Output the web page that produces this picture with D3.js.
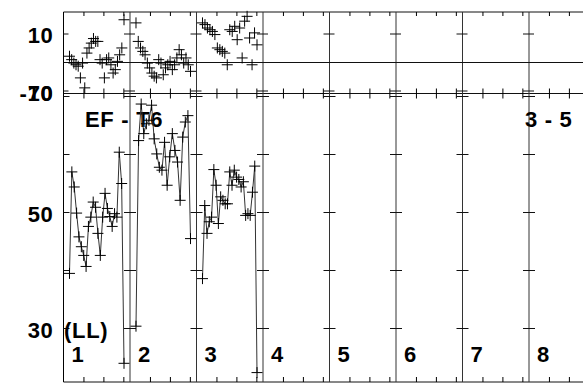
<!DOCTYPE html>
<html>
<head>
<meta charset="utf-8">
<script src="https://cdn.jsdelivr.net/npm/d3@7"></script>
<style>
    body { margin: 0; background: #fff; }
    svg { display: block; }
    text { font-family: "Liberation Sans", Arial, sans-serif; font-weight: bold; font-size: 22px; letter-spacing: 0.7px; fill: #000; }
</style>
</head>
<body>
<div id="chart"></div>
<script>
// section labels along the bottom
var sectionLabels = ['1', '2', '3', '4', '5', '6', '7', '8'];
var topTickValues = [-10, 0, 10];
var topTickLabels = ['-10', '10'];
var bottomTickValues = [30, 40, 50, 60, 70];
var bottomTickLabels = ['30', '50', '70'];
var xOffsetsInSection = [3, 6, 9];

// upper panel (markers only), one array per section
var top1 = [2.2, 1.0, -0.2, -0.8, -1.3, -5.4, -0.2, -8.9, 3.3, 5.1, 6.8, 8.4, 7.4, 7.4, 1.0, -0.2, -5.4, 1.0, 1.6, -0.8, -3.7, -2.5, 0.4, 2.7, 5.1, 15.0];
var top2 = [13.9, 7.4, 5.1, 3.9, 2.7, -0.2, -1.9, -3.7, -4.8, -5.4, 1.0, -0.2, -4.3, -1.9, -0.8, 0.4, -2.5, -0.8, 1.6, 4.5, 2.7, -0.2, 1.6, -0.8, -3.1];
var top3 = [13.9, 13.3, 12.1, 11.5, 10.9, 9.8, 5.1, 4.5, 3.9, 3.3, -0.8, 11.5, 10.9, 12.7, 8.0, 12.1, 1.6, 14.5, 16.2, 8.6, -0.8, 10.4, 6.2];

// lower panel (line + markers), one array per section
var bottom1 = [39.5, 57.0, 54.4, 49.9, 45.8, 44.1, 42.6, 40.7, 47.6, 49.2, 51.8, 50.9, 46.4, 42.6, 49.2, 53.3, 50.7, 49.3, 47.6, 49.8, 49.2, 60.4, 55.0, 24.0];
var bottom2 = [30.4, 62.4, 68.7, 63.6, 65.3, 65.9, 68.5, 62.7, 60.1, 57.8, 57.3, 62.1, 54.7, 59.6, 63.6, 60.7, 58.7, 52.1, 63.0, 65.6, 66.7, 45.5];
var bottom3 = [38.6, 51.2, 46.4, 48.4, 49.2, 57.4, 54.7, 48.1, 52.7, 52.1, 51.5, 51.5, 57.0, 54.7, 57.3, 56.1, 55.7, 54.4, 55.3, 49.5, 49.8, 49.5, 53.5, 58.0, 22.4];

var topSeries = [top1, top2, top3];
var bottomSeries = [bottom1, bottom2, bottom3];

var width = 583, height = 389;
var topY = 12, midY = 93.5, bottomY = 382;

var svg = d3.select('#chart')
    .append('svg')
    .attr('width', width)
    .attr('height', height);

// each section is 10 units wide
var x = d3.scaleLinear().domain([0, 80]).range([63.5, 595.5]);
var yTop = d3.scaleLinear().domain([-10, 10]).range([91, 34]);
var yBottom = d3.scaleLinear().domain([30, 70]).range([328.5, 96.5]);

// place the i-th point of a section
function px(section, i, n) {
    return x(section * 10 + 0.9 + i * 8.2 / (n - 1));
}

var frame = svg.append('g').attr('stroke', '#111').attr('stroke-width', 1).attr('fill', 'none');

// horizontal frame lines
[topY, midY, bottomY].forEach(function(yy) {
    frame.append('line').attr('x1', x(0)).attr('x2', width).attr('y1', yy).attr('y2', yy);
});
// zero line in upper panel
frame.append('line').attr('x1', x(0)).attr('x2', width).attr('y1', yTop(0)).attr('y2', yTop(0));

// left axis + section separators
d3.range(0, 8).forEach(function(k) {
    frame.append('line').attr('x1', x(k * 10)).attr('x2', x(k * 10)).attr('y1', topY).attr('y2', bottomY)
        .attr('stroke', k === 0 ? '#000' : '#333');
});

// x ticks
var xTickValues = [];
d3.range(0, 8).forEach(function(k) {
    xOffsetsInSection.forEach(function(o) { xTickValues.push(k * 10 + o); });
});

svg.append('g')
    .attr('transform', 'translate(0,' + topY + ')')
    .call(d3.axisTop(x).tickValues(xTickValues).tickSize(-4).tickFormat(''))
    .call(function(g) { g.select('.domain').remove(); });

svg.append('g')
    .attr('transform', 'translate(0,' + bottomY + ')')
    .call(d3.axisBottom(x).tickValues(xTickValues).tickSize(-5).tickFormat(''))
    .call(function(g) { g.select('.domain').remove(); });

svg.append('g')
    .attr('transform', 'translate(0,' + (midY + 5) + ')')
    .call(d3.axisBottom(x).tickValues(xTickValues).tickSize(-10).tickFormat(''))
    .call(function(g) { g.select('.domain').remove(); });

// y ticks on left axis (inward) and on each separator (centred)
var yTicks = svg.append('g').attr('stroke', '#111').attr('stroke-width', 1);
d3.range(0, 8).forEach(function(k) {
    var xs = x(k * 10);
    var x1 = k === 0 ? xs : xs - 6;
    topTickValues.forEach(function(v) {
        yTicks.append('line').attr('x1', x1).attr('x2', xs + 5).attr('y1', yTop(v)).attr('y2', yTop(v));
    });
    bottomTickValues.forEach(function(v) {
        yTicks.append('line').attr('x1', x1).attr('x2', xs + 6).attr('y1', yBottom(v)).attr('y2', yBottom(v));
    });
});

// y labels ("-10" and "70" share the panel boundary, as in the original)
var labels = svg.append('g').attr('text-anchor', 'end');
topTickLabels.forEach(function(t) {
    var v = +t;
    labels.append('text').attr('x', 53.5)
        .attr('y', v === -10 ? midY - 0.5 : yTop(v) + 1.5)
        .attr('dominant-baseline', 'central').text(t);
});
bottomTickLabels.forEach(function(t) {
    var v = +t;
    labels.append('text').attr('x', 53.5)
        .attr('y', v === 70 ? midY - 0.5 : yBottom(v) + 1.5)
        .attr('dominant-baseline', 'central').text(t);
});

// annotations
svg.append('text').attr('x', 85).attr('y', 127.3).text('EF - T6');
svg.append('text').attr('x', 525).attr('y', 127.3).text('3 - 5');
svg.append('text').attr('x', 64).attr('y', 338).text('(LL)');

svg.append('g').selectAll('text')
    .data(sectionLabels)
    .enter().append('text')
    .attr('x', function(d, i) { return x(i * 10) + 8; })
    .attr('y', 361.7)
    .text(function(d) { return d; });

var plus = 'M-5.5,0H5.5M0,-5.5V5.5';

// upper panel markers
topSeries.forEach(function(vals, k) {
    svg.append('g').selectAll('path')
        .data(vals)
        .enter().append('path')
        .attr('d', plus)
        .attr('stroke', '#000')
        .attr('stroke-width', 1)
        .attr('transform', function(d, i) { return 'translate(' + px(k, i, vals.length) + ',' + yTop(d) + ')'; });
});

// lower panel lines + markers
var line = d3.line();
bottomSeries.forEach(function(vals, k) {
    var pts = vals.map(function(d, i) { return [px(k, i, vals.length), yBottom(d)]; });
    svg.append('path')
        .attr('d', line(pts))
        .attr('fill', 'none')
        .attr('stroke', '#333')
        .attr('stroke-width', 1);
    svg.append('g').selectAll('path')
        .data(pts)
        .enter().append('path')
        .attr('d', plus)
        .attr('stroke', '#000')
        .attr('stroke-width', 1)
        .attr('transform', function(d) { return 'translate(' + d[0] + ',' + d[1] + ')'; });
});
</script>
</body>
</html>
